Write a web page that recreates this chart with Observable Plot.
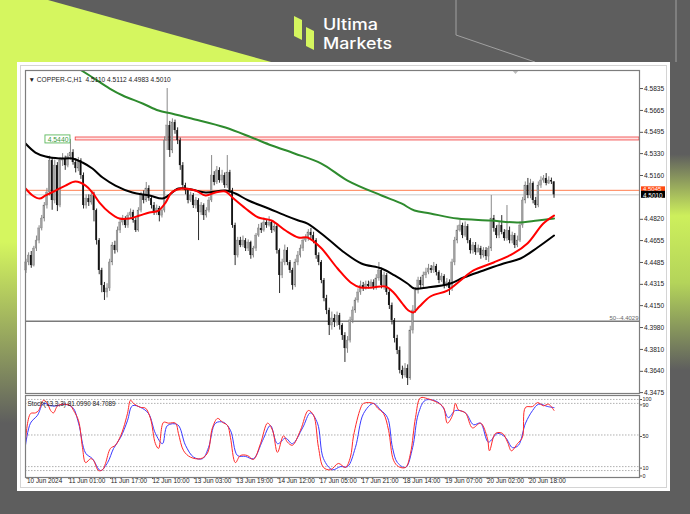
<!DOCTYPE html>
<html><head><meta charset="utf-8">
<script src="https://cdn.jsdelivr.net/npm/d3@7"></script>
<script src="https://cdn.jsdelivr.net/npm/@observablehq/plot@0.6"></script>
<style>
body{margin:0;background:#5e5e5e;}
#wrap{position:relative;width:690px;height:514px;overflow:hidden;}
#bg{position:absolute;left:0;top:0;}
.layer{position:absolute;left:0;}
</style></head><body>
<div id="wrap">
<svg id="bg" width="690" height="514">
 <defs>
  <linearGradient id="rg" x1="0" y1="0" x2="0" y2="1">
   <stop offset="0" stop-color="#5e5e5e"/>
   <stop offset="0.3" stop-color="#5e5e5e"/>
   <stop offset="0.42" stop-color="#cdef5c"/>
   <stop offset="0.55" stop-color="#b4d45a"/>
   <stop offset="0.72" stop-color="#5e5e5e"/>
  </linearGradient>
  <linearGradient id="lg" x1="0" y1="0" x2="0" y2="1">
   <stop offset="0" stop-color="#d5f65f"/>
   <stop offset="0.4" stop-color="#d5f65f"/>
   <stop offset="0.8" stop-color="#5e5e5e"/>
  </linearGradient>
 </defs>
 <rect width="690" height="514" fill="#5e5e5e"/>
 <polygon points="0,0 48,0 300,70 0,70" fill="#d5f65f"/>
 <rect x="0" y="60" width="18" height="454" fill="url(#lg)"/>
 <rect x="670" y="0" width="20" height="514" fill="url(#rg)"/>
 <polyline points="456,0 456,35 535,62" stroke="#a0a0a0" stroke-width="1" fill="none"/>
 <line x1="676" y1="0" x2="676" y2="62" stroke="#a0a0a0" stroke-width="1"/>
 <rect x="17" y="62" width="653" height="429" fill="#ffffff"/>
 <rect x="20.5" y="65.5" width="646" height="422" fill="none" stroke="#d4d4d4"/>
 <polygon points="512,70 519,70 515.5,74" fill="#bdbdbd"/>
 <polygon points="294,16 302,20 302,40 294,36" fill="#d5f65f"/>
 <polygon points="306,27 314,31 314,50 306,46" fill="#d5f65f"/>
 <text x="323" y="30" font-family="Inter" font-size="15.5" font-weight="500" fill="#ffffff" textLength="55" lengthAdjust="spacingAndGlyphs">Ultima</text>
 <text x="323" y="49" font-family="Inter" font-size="15.5" font-weight="500" fill="#ffffff" textLength="69" lengthAdjust="spacingAndGlyphs">Markets</text>
</svg>
<div id="main" class="layer" style="top:0px"></div>
<div id="stoch" class="layer" style="top:390px"></div>
</div>
<script>
// ---------------- data ----------------
const symbolTitle = "\u25BC COPPER-C,H1  4.5110 4.5112 4.4983 4.5010";
const stochTitle = "Stoch(13,3,3) 81.0990 84.7089";

const opens = [4.4423,4.4485,4.4539,4.4461,4.4593,4.4655,4.4749,4.4826,4.4927,4.5028,
4.5276,4.4966,4.5237,4.4927,4.5276,4.5292,4.5237,4.5307,4.5338,4.5261,
4.5214,4.5276,4.5160,4.4927,4.4981,4.4950,4.5005,4.4888,4.4655,4.4423,
4.4306,4.4252,4.4283,4.4485,4.4617,4.4578,4.4733,4.4795,4.4826,4.4772,
4.4849,4.4873,4.4811,4.4733,4.4888,4.5005,4.4966,4.5059,4.4981,4.4927,
4.4873,4.4904,4.4849,4.4888,4.5431,4.5548,4.5354,4.5571,4.5509,4.5431,
4.5237,4.5082,4.5043,4.4966,4.5005,4.4927,4.4966,4.4873,4.4927,4.4849,
4.4888,4.4966,4.5160,4.5106,4.5199,4.5121,4.5160,4.5082,4.5183,4.5043,
4.4772,4.4539,4.4655,4.4617,4.4655,4.4593,4.4640,4.4539,4.4593,4.4694,
4.4749,4.4733,4.4795,4.4772,4.4795,4.4733,4.4764,4.4578,4.4384,4.4485,
4.4578,4.4485,4.4423,4.4306,4.4485,4.4539,4.4593,4.4655,4.4671,4.4718,
4.4694,4.4655,4.4539,4.4485,4.4345,4.4205,4.4112,4.3996,4.4050,4.4019,
4.4073,4.3996,4.3918,4.3817,4.3879,4.4035,4.4112,4.4190,4.4252,4.4306,
4.4283,4.4314,4.4299,4.4330,4.4291,4.4361,4.4423,4.4306,4.4384,4.4252,
4.4151,4.4035,4.3895,4.3802,4.3647,4.3608,4.3662,4.3585,4.3957,4.4112,
4.4267,4.4345,4.4306,4.4384,4.4407,4.4438,4.4423,4.4454,4.4407,4.4345,
4.4376,4.4306,4.4330,4.4283,4.4485,4.4655,4.4733,4.4772,4.4694,4.4764,
4.4655,4.4578,4.4617,4.4562,4.4593,4.4539,4.4578,4.4531,4.4593,4.4826,
4.4749,4.4694,4.4772,4.4718,4.4671,4.4733,4.4655,4.4694,4.4617,4.4655,
4.4772,4.4966,4.5082,4.5005,4.5098,4.4966,4.4927,4.5082,4.5121,4.5137,
4.5098,4.5121,4.5110];

const highs = [4.4510,4.4560,4.4570,4.4610,4.4690,4.4770,4.4850,4.4950,4.5060,4.5310,
4.5300,4.5280,4.5260,4.5300,4.5330,4.5310,4.5330,4.5440,4.5360,4.5290,
4.5300,4.5290,4.5180,4.5010,4.5010,4.5040,4.5030,4.4900,4.4670,4.4440,
4.4330,4.4320,4.4510,4.4640,4.4650,4.4760,4.4820,4.4850,4.4840,4.4870,
4.4900,4.4890,4.4830,4.4910,4.5030,4.5040,4.5106,4.5080,4.5000,4.4950,
4.4930,4.4920,4.4910,4.5460,4.5835,4.5580,4.5600,4.5590,4.5530,4.5450,
4.5260,4.5100,4.5060,4.5030,4.5020,4.4990,4.4980,4.4950,4.4940,4.4910,
4.4990,4.5315,4.5190,4.5230,4.5220,4.5200,4.5180,4.5315,4.5200,4.5060,
4.4790,4.4680,4.4680,4.4690,4.4670,4.4660,4.4650,4.4610,4.4710,4.4780,
4.4790,4.4830,4.4810,4.4840,4.4810,4.4790,4.4780,4.4590,4.4510,4.4620,
4.4600,4.4500,4.4440,4.4510,4.4570,4.4620,4.4680,4.4700,4.4740,4.4749,
4.4720,4.4670,4.4560,4.4500,4.4360,4.4230,4.4130,4.4100,4.4080,4.4100,
4.4090,4.4010,4.3940,4.3910,4.4060,4.4140,4.4210,4.4280,4.4340,4.4330,
4.4340,4.4340,4.4350,4.4350,4.4390,4.4485,4.4440,4.4410,4.4400,4.4270,
4.4170,4.4050,4.3920,4.3830,4.3680,4.3700,4.3690,4.3990,4.4150,4.4290,
4.4370,4.4370,4.4410,4.4440,4.4470,4.4461,4.4485,4.4470,4.4420,4.4400,
4.4390,4.4360,4.4350,4.4510,4.4680,4.4770,4.4811,4.4790,4.4800,4.4780,
4.4670,4.4640,4.4640,4.4620,4.4610,4.4600,4.4600,4.4610,4.5005,4.4850,
4.4770,4.4800,4.4849,4.4740,4.4927,4.4760,4.4720,4.4710,4.4690,4.4800,
4.4990,4.5110,4.5137,4.5130,4.5110,4.4990,4.5110,4.5150,4.5160,4.5175,
4.5150,4.5140,4.5112];

const lows = [4.4400,4.4460,4.4440,4.4450,4.4570,4.4630,4.4730,4.4800,4.4900,4.5000,
4.4890,4.4940,4.4880,4.4910,4.5230,4.5200,4.5220,4.5280,4.5240,4.5180,
4.5190,4.5130,4.4900,4.4900,4.4920,4.4930,4.4800,4.4620,4.4390,4.4250,
4.4190,4.4210,4.4260,4.4460,4.4550,4.4560,4.4710,4.4770,4.4750,4.4750,
4.4820,4.4790,4.4718,4.4720,4.4870,4.4940,4.4950,4.4960,4.4900,4.4850,
4.4850,4.4800,4.4830,4.4870,4.5354,4.5300,4.5330,4.5480,4.5400,4.5200,
4.5050,4.5010,4.4940,4.4950,4.4904,4.4900,4.4655,4.4850,4.4811,4.4830,
4.4870,4.4950,4.5080,4.5090,4.5100,4.5100,4.5060,4.5060,4.5020,4.4750,
4.4461,4.4520,4.4600,4.4600,4.4570,4.4570,4.4510,4.4520,4.4570,4.4680,
4.4710,4.4720,4.4750,4.4760,4.4710,4.4720,4.4550,4.4244,4.4360,4.4460,
4.4460,4.4400,4.4270,4.4290,4.4460,4.4520,4.4570,4.4640,4.4650,4.4670,
4.4630,4.4510,4.4460,4.4320,4.4180,4.4080,4.3918,4.3960,4.3980,4.3990,
4.3960,4.3880,4.3709,4.3780,4.3860,4.4010,4.4090,4.4170,4.4230,4.4260,
4.4270,4.4280,4.4280,4.4270,4.4270,4.4340,4.4280,4.4270,4.4230,4.4120,
4.4000,4.3860,4.3770,4.3620,4.3580,4.3590,4.3530,4.3570,4.3930,4.4090,
4.4240,4.4280,4.4290,4.4360,4.4390,4.4400,4.4400,4.4380,4.4320,4.4330,
4.4280,4.4290,4.4229,4.4260,4.4460,4.4630,4.4720,4.4670,4.4680,4.4630,
4.4550,4.4550,4.4540,4.4560,4.4510,4.4520,4.4500,4.4485,4.4570,4.4720,
4.4670,4.4670,4.4700,4.4650,4.4650,4.4630,4.4630,4.4593,4.4600,4.4640,
4.4750,4.4940,4.4980,4.4980,4.4940,4.4904,4.4910,4.5060,4.5100,4.5080,
4.5090,4.5090,4.4983];

const closes = [4.4485,4.4539,4.4461,4.4593,4.4655,4.4749,4.4826,4.4927,4.5028,4.5276,
4.4966,4.5237,4.4927,4.5276,4.5292,4.5237,4.5307,4.5338,4.5261,4.5214,
4.5276,4.5160,4.4927,4.4981,4.4950,4.5005,4.4888,4.4655,4.4423,4.4306,
4.4252,4.4283,4.4485,4.4617,4.4578,4.4733,4.4795,4.4826,4.4772,4.4849,
4.4873,4.4811,4.4733,4.4888,4.5005,4.4966,4.5059,4.4981,4.4927,4.4873,
4.4904,4.4849,4.4888,4.5431,4.5548,4.5354,4.5571,4.5509,4.5431,4.5237,
4.5082,4.5043,4.4966,4.5005,4.4927,4.4966,4.4873,4.4927,4.4849,4.4888,
4.4966,4.5160,4.5106,4.5199,4.5121,4.5160,4.5082,4.5183,4.5043,4.4772,
4.4539,4.4655,4.4617,4.4655,4.4593,4.4640,4.4539,4.4593,4.4694,4.4749,
4.4733,4.4795,4.4772,4.4795,4.4733,4.4764,4.4578,4.4384,4.4485,4.4578,
4.4485,4.4423,4.4306,4.4485,4.4539,4.4593,4.4655,4.4671,4.4718,4.4694,
4.4655,4.4539,4.4485,4.4345,4.4205,4.4112,4.3996,4.4050,4.4019,4.4073,
4.3996,4.3918,4.3817,4.3879,4.4035,4.4112,4.4190,4.4252,4.4306,4.4283,
4.4314,4.4299,4.4330,4.4291,4.4361,4.4423,4.4306,4.4384,4.4252,4.4151,
4.4035,4.3895,4.3802,4.3647,4.3608,4.3662,4.3585,4.3957,4.4112,4.4267,
4.4345,4.4306,4.4384,4.4407,4.4438,4.4423,4.4454,4.4407,4.4345,4.4376,
4.4306,4.4330,4.4283,4.4485,4.4655,4.4733,4.4772,4.4694,4.4764,4.4655,
4.4578,4.4617,4.4562,4.4593,4.4539,4.4578,4.4531,4.4593,4.4826,4.4749,
4.4694,4.4772,4.4718,4.4671,4.4733,4.4655,4.4694,4.4617,4.4655,4.4772,
4.4966,4.5082,4.5005,4.5098,4.4966,4.4927,4.5082,4.5121,4.5137,4.5098,
4.5121,4.5110,4.5010];

// moving averages, sampled at bar positions
const maGreenBars = [17,24.3,32,37,44.6,50.7,55.7,63.3,76.3,86.3,94,102.7,113,123,136,143.6,148.6,154.7,165,177.7,188,195.7,202];
const maGreenVals = [4.6029,4.5936,4.5835,4.5781,4.5719,4.5664,4.5641,4.5602,4.5532,4.5455,4.5393,4.5331,4.5253,4.5121,4.5005,4.4943,4.4888,4.4865,4.4826,4.4811,4.4795,4.4811,4.4826];
const maBlackBars = [-0.2,3.6,7.5,12.8,17.8,21.6,25.4,29.3,34.2,40.7,47.2,52.2,54.5,58.3,63.3,68.7,76.3,80.1,85.1,92.8,99.3,104.2,107.7,115.3,121.8,128.3,136,141,145.9,148.6,153.6,162.4,167.4,175,182.7,189.2,195.7,202];
const maBlackVals = [4.5408,4.5338,4.5307,4.5292,4.5292,4.5261,4.5214,4.5144,4.5082,4.5028,4.5005,4.4981,4.5005,4.5059,4.5051,4.5028,4.5043,4.5020,4.4966,4.4904,4.4849,4.4811,4.4787,4.4671,4.4562,4.4477,4.4438,4.4384,4.4322,4.4283,4.4291,4.4322,4.4368,4.4423,4.4477,4.4516,4.4601,4.4694];
const maRedBars = [-0.2,2.5,5.2,7.5,11.3,15.1,18.9,22.8,25.4,28.1,31.9,35.8,39.6,43.4,47.2,50.7,53.4,55.7,59.5,64.8,68.7,72.5,76.3,79.4,84,88.9,93.9,99.3,104.2,107.7,112.7,119.2,124.2,128,132.6,137.5,140.6,143.7,146.3,148.2,150.5,154.7,161.2,166.2,171.2,178.9,186.5,191.8,197.9,202];
const maRedVals = [4.5059,4.5005,4.4981,4.5005,4.5043,4.5082,4.5113,4.5082,4.5028,4.4950,4.4873,4.4826,4.4826,4.4849,4.4873,4.4888,4.4950,4.5028,4.5059,4.5043,4.5005,4.5028,4.5036,4.4981,4.4904,4.4834,4.4811,4.4733,4.4679,4.4679,4.4601,4.4438,4.4330,4.4291,4.4291,4.4299,4.4252,4.4174,4.4112,4.4097,4.4143,4.4221,4.4267,4.4345,4.4423,4.4485,4.4555,4.4632,4.4787,4.4849];

// stochastic (main %K red, signal %D blue)
const stochKBars = [-0.2,1.7,3.6,4.8,6.7,8.2,9.4,10.5,12.1,14.3,17,18.2,20.1,21.6,22.8,24.7,25.8,27.7,29.3,30.4,32.3,34.2,36.2,37.3,38.8,40,41.1,43.8,45.7,47.6,49.5,50.7,52.6,54.5,57.2,58.3,60.3,62.9,66.8,69.4,71.3,73.3,75.2,77.1,78.2,80.1,82,84.7,87,89.7,92.4,94.3,96.2,98.5,100,101.9,105,108,110,111.9,113.8,116.5,119.5,122.2,124.1,125.3,128,129.1,132.9,134.5,136.8,138.7,140.6,142.5,145.2,147.1,149,150.9,153.6,157.4,159.7,161.2,163.2,164.3,165.4,168.1,170.8,173.9,176.5,177.3,179.6,182.3,184.2,185.7,188,189.9,191.1,193.8,195.7,198,199.9,202];
const stochKVals = [43,77,78,81,94,90,81,78,87,89,87,81,68,34,15,20,18,5,6,14,33,37,49,59,77,94,90,85,84,71,39,33,66,65,65,52,30,22,20,27,59,71,66,62,47,15,24,24,19,39,65,56,28,49,41,37,56,81,75,34,9,6,14,9,22,49,84,90,90,84,77,56,18,10,9,27,72,97,96,91,85,65,75,90,82,78,59,65,46,30,52,52,41,30,39,47,85,86,91,87,89,81.1];
const stochDBars = [-0.2,1.7,4.4,6.7,9.4,12.1,14.3,17.8,20.1,22.8,25.4,28.5,31.2,33.5,36.2,38.8,40.7,43.8,46.9,49.5,52.2,54.1,58,61,64.1,67.5,69.8,72.5,75.6,78.2,80.9,83.9,87,90.5,93.5,96.2,99.3,101.9,105.8,108.8,111.5,113.8,117.2,120.3,123,126,129.1,132.9,135.6,138.3,140.2,142.1,145.2,147.9,150.1,152.8,157.4,159.7,161.6,164.3,168.1,171.2,173.9,176.9,180.4,183.4,186.1,188.4,191.1,193.8,196.1,199.6,202];
const stochDVals = [37,65,75,90,87,87,89,85,65,27,20,5,15,33,47,68,87,85,77,52,39,62,63,37,22,20,34,65,66,56,24,23,20,43,62,39,46,39,59,78,65,20,6,10,10,34,77,90,82,72,34,15,9,34,77,94,92,84,72,81,78,63,65,41,52,47,34,37,65,81,89,86,84.7];
const stochLevels = [5, 10, 50, 90, 95];
const stochTopTick = [100];
const stochTicks = [90, 50, 10, 0];

// levels
const resistance = {bar: 17, startBar: 19, level: 4.5440, low: 4.5432, high: 4.5455};
const support = {level: 4.4029, label: "50--4.4029"};
const askPrice = 4.5045;
const lastPrice = 4.5010;

// axes
const priceTicks = [4.5835,4.5665,4.5495,4.5330,4.5160,4.4820,4.4655,4.4485,4.4315,4.4150,4.3980,4.3810,4.3640,4.3475];
const timeTickBars = [0,16,32,48,64,80,96,112,128,144,160,176,192];
const timeTickLabels = ["10 Jun 2024","11 Jun 01:00","11 Jun 17:00","12 Jun 10:00","13 Jun 03:00","13 Jun 19:00","14 Jun 12:00","17 Jun 05:00","17 Jun 21:00","18 Jun 14:00","19 Jun 07:00","20 Jun 02:00","20 Jun 18:00"];

// ---------------- build ----------------
const xDomain = [-0.2, 234.7];
const candles = opens.map((o, i) => ({i, o, h: highs[i], l: lows[i], c: closes[i]}));
const bulls = candles.filter(d => d.c >= d.o);
const bears = candles.filter(d => d.c < d.o);
const pts = (bars, vals) => bars.map((b, k) => ({b, v: vals[k]}));
const FONT = "'Liberation Sans', Arial, sans-serif";

const main = Plot.plot({
  width: 690, height: 400,
  marginTop: 70, marginBottom: 7, marginLeft: 25, marginRight: 51,
  style: {background: "transparent", overflow: "visible", fontFamily: FONT, color: "#222"},
  x: {domain: xDomain, axis: null, label: null},
  y: {domain: [4.3468, 4.5975], axis: null, label: null},
  marks: [
    Plot.rect([resistance], {x1: d => d.startBar, x2: xDomain[1], y1: "low", y2: "high", fill: "#ffe3e3", stroke: "#f03c3c", strokeWidth: 0.8}),
    Plot.ruleY([support.level], {stroke: "#7a7a7a", strokeWidth: 1.6}),
    Plot.ruleY([lastPrice], {stroke: "#c9c9c9", strokeWidth: 1}),
    Plot.ruleY([askPrice], {stroke: "#ff7f50", strokeWidth: 1}),
    Plot.ruleX(bulls, {x: "i", y1: "l", y2: "h", stroke: "#7c7c7c", strokeWidth: 0.9}),
    Plot.ruleX(bears, {x: "i", y1: "l", y2: "h", stroke: "#141414", strokeWidth: 0.9}),
    Plot.rect(bulls, {x1: d => d.i - 0.34, x2: d => d.i + 0.34, y1: "o", y2: "c", fill: "#a3a3a3", stroke: "#6e6e6e", strokeWidth: 0.3}),
    Plot.rect(bears, {x1: d => d.i - 0.34, x2: d => d.i + 0.34, y1: "o", y2: "c", fill: "#141414"}),
    Plot.line(pts(maGreenBars, maGreenVals), {x: "b", y: "v", stroke: "#2e8b2e", strokeWidth: 2, curve: "catmull-rom", clip: true}),
    Plot.line(pts(maBlackBars, maBlackVals), {x: "b", y: "v", stroke: "#000000", strokeWidth: 2, curve: "catmull-rom", clip: true}),
    Plot.line(pts(maRedBars, maRedVals), {x: "b", y: "v", stroke: "#ff0000", strokeWidth: 2, curve: "catmull-rom", clip: true}),
    // resistance label box
    Plot.rect([resistance], {x1: "bar", x2: "bar", y1: "level", y2: "level", insetLeft: -25, insetRight: 0, insetTop: -4, insetBottom: -4, fill: "#ffffff", stroke: "#5cb85c", strokeWidth: 0.9}),
    Plot.text([resistance], {x: "bar", y: "level", text: d => d.level.toFixed(4), textAnchor: "end", dx: -2, fontSize: 6.8, fill: "#3c9a3c"}),
    Plot.text([support], {y: "level", text: "label", frameAnchor: "right", textAnchor: "end", dx: -1, dy: -3.5, fontSize: 6, fill: "#666"}),
    // price axis
    Plot.axisY(priceTicks, {anchor: "right", label: null, tickFormat: d => d.toFixed(4), tickSize: 3, tickPadding: 1.5, fontSize: 6.6, stroke: "#555"}),
    Plot.rect([askPrice], {y1: d => d, y2: d => d, insetLeft: 616, insetRight: -26, insetTop: -3.5, insetBottom: -3.5, fill: "#ff4a12"}),
    Plot.text([askPrice], {y: d => d, text: d => d.toFixed(4), frameAnchor: "right", textAnchor: "start", dx: 3.5, dy: -1.5, fontSize: 6, fill: "#ffffff"}),
    Plot.rect([lastPrice], {y1: d => d, y2: d => d, insetLeft: 616, insetRight: -26, insetTop: -3.5, insetBottom: -3.5, fill: "#000000"}),
    Plot.text([lastPrice], {y: d => d, text: d => d.toFixed(4), frameAnchor: "right", textAnchor: "start", dx: 3.5, dy: 0.8, fontSize: 6.4, fill: "#ffffff"}),
    Plot.frame({stroke: "#7d7d7d", strokeWidth: 1.2}),
    Plot.text([symbolTitle], {frameAnchor: "top-left", dx: 3, dy: 7, fontSize: 6.6, fill: "#222"})
  ]
});
document.getElementById("main").appendChild(main);

const stoch = Plot.plot({
  width: 690, height: 100,
  marginTop: 5, marginBottom: 13, marginLeft: 25, marginRight: 51,
  style: {background: "transparent", overflow: "visible", fontFamily: FONT, color: "#222"},
  x: {domain: xDomain, axis: null, label: null},
  y: {domain: [-3.8, 100], axis: null, label: null},
  marks: [
    Plot.ruleY(stochLevels, {stroke: "#a8a8a8", strokeWidth: 0.9, strokeDasharray: "1.5,1.5"}),
    Plot.line(pts(stochDBars, stochDVals), {x: "b", y: "v", stroke: "#3a3aff", strokeWidth: 1, curve: "catmull-rom", clip: true}),
    Plot.line(pts(stochKBars, stochKVals), {x: "b", y: "v", stroke: "#ff2a2a", strokeWidth: 1, curve: "catmull-rom", clip: true}),
    Plot.axisY(stochTopTick, {anchor: "right", label: null, tickSize: 2, tickPadding: 1, fontSize: 5.4, dy: 4, stroke: "#555"}),
    Plot.axisY(stochTicks, {anchor: "right", label: null, tickSize: 2, tickPadding: 1, fontSize: 5.4, dy: 1.5, stroke: "#555"}),
    Plot.axisX(timeTickBars, {anchor: "bottom", label: null, tickFormat: d => timeTickLabels[timeTickBars.indexOf(d)], textAnchor: "start", dx: 1, tickSize: 2, tickPadding: -1, fontSize: 6.4, stroke: "#555"}),
    Plot.frame({stroke: "#7d7d7d", strokeWidth: 1.2}),
    Plot.text([stochTitle], {frameAnchor: "top-left", dx: 2, dy: 6, fontSize: 6.4, fill: "#222"})
  ]
});
document.getElementById("stoch").appendChild(stoch);
</script>
</body></html>
